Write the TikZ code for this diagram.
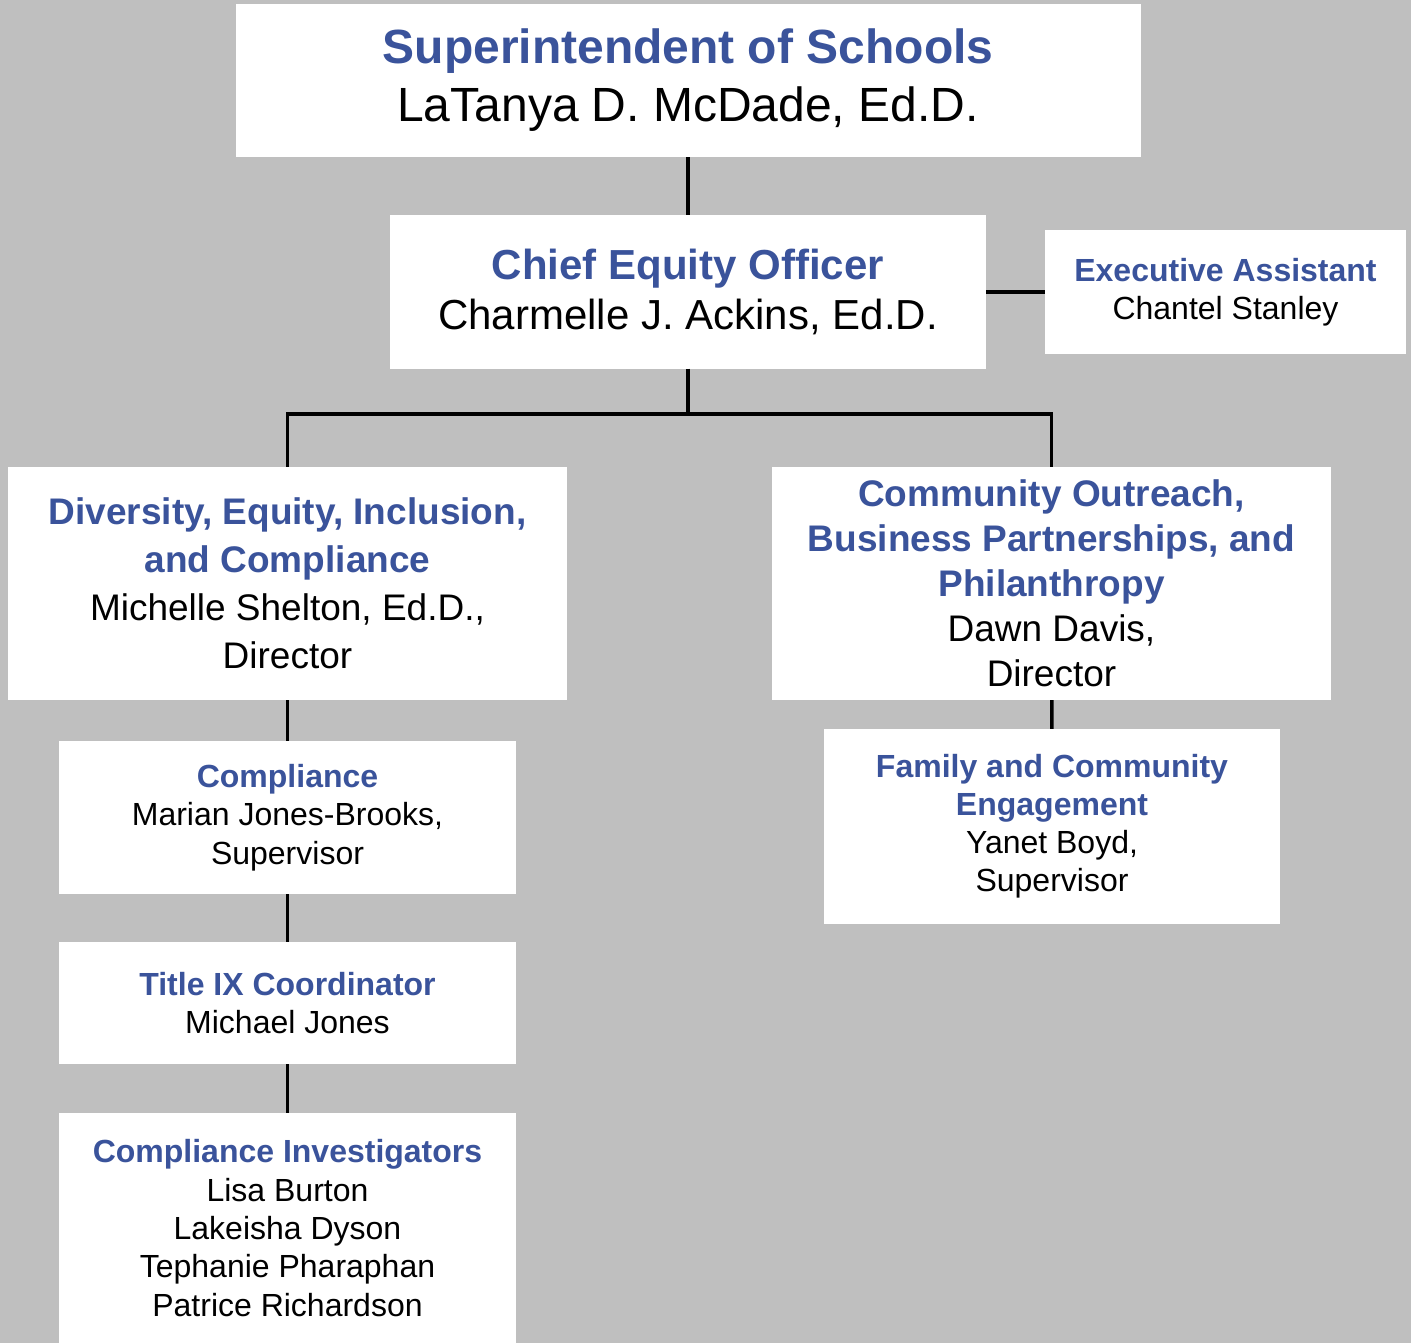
\documentclass[tikz,border=0pt]{standalone}
\usepackage{fontspec}
\setmainfont{Liberation Sans}
\definecolor{titleblue}{HTML}{3A539B}
\definecolor{pagegray}{HTML}{BFBFBF}
\newcommand{\hd}[1]{{\color{titleblue}\bfseries #1}}
\tikzset{
	box/.style={rectangle, fill=white, inner sep=0pt, align=center},
	sz/.style 2 args={font=\fontsize{#1}{#2}\selectfont},
	conn/.style={line width=3.5pt, line join=miter}
}

\begin{document}
\begin{tikzpicture}[x=1pt, y=-1pt]
		\fill[pagegray] (0,0) rectangle (1411,1343);
		\useasboundingbox (0,0) rectangle (1411,1343);

		\node[box, sz={48}{58}, minimum width=905, minimum height=153] (super) at (688,80.5) { \hd{Superintendent of Schools}\\ LaTanya D. McDade, Ed.D. };
		\node[box, sz={42}{50}, minimum width=596, minimum height=153] (chief) at (688,292) { \hd{Chief Equity Officer}\\ Charmelle J. Ackins, Ed.D. };
		\node[box, sz={32}{38}, minimum width=361, minimum height=124] (exec) at (1225.5,292) { \hd{Executive Assistant}\\ Chantel Stanley };
		\node[box, sz={37}{48}, minimum width=559, minimum height=233] (dei) at (287.5,583.5) { \hd{Diversity, Equity, Inclusion,}\\ \hd{and Compliance}\\ Michelle Shelton, Ed.D.,\\ Director };
		\node[box, sz={37}{45}, minimum width=559, minimum height=233] (outreach) at (1051.5,583.5) { \hd{Community Outreach,}\\ \hd{Business Partnerships, and}\\ \hd{Philanthropy}\\ Dawn Davis,\\ Director };
		\node[box, sz={32}{38.5}, minimum width=457, minimum height=153] (compliance) at (287.5,817.5) { \hd{Compliance}\\ Marian Jones-Brooks,\\ Supervisor };
		\node[box, sz={32}{38}, minimum width=456, minimum height=195] (family) at (1052,826.5) { \hd{Family and Community}\\ \hd{Engagement}\\ Yanet Boyd,\\ Supervisor };
		\node[box, sz={32}{38}, minimum width=457, minimum height=122] (titleix) at (287.5,1003) { \hd{Title IX Coordinator}\\ Michael Jones };
		\node[box, sz={32}{38.3}, minimum width=457, minimum height=230] (investigators) at (287.5,1228) { \hd{Compliance Investigators}\\ Lisa Burton\\ Lakeisha Dyson\\ Tephanie Pharaphan\\ Patrice Richardson };

		\coordinate (split) at (688,414);

		\draw[conn] (super) -- (chief);
		\draw[conn] (chief) -- (exec);
		\draw[conn] (chief) -- (split);
		\draw[conn] (dei.north) |- (split) -| (outreach.north);
		\draw[conn] (dei) -- (compliance);
		\draw[conn] (compliance) -- (titleix);
		\draw[conn] (titleix) -- (investigators);
		\draw[conn] (outreach) -- (family);
	\end{tikzpicture}
\end{document}
